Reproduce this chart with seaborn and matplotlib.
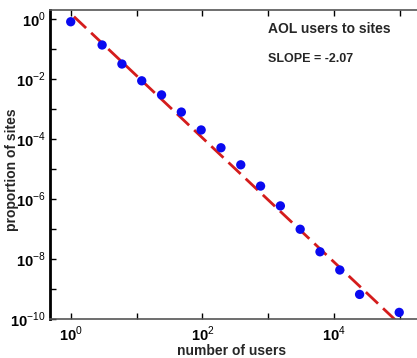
import numpy as np
import pandas as pd
import matplotlib
matplotlib.use("Agg")
import matplotlib.pyplot as plt
import seaborn as sns
from matplotlib.ticker import FixedLocator, FuncFormatter, NullLocator

# ---- data ----
num_users = [1, 3, 6, 12, 24, 48, 96, 192, 384, 768, 1536, 3072, 6144, 12288, 24576, 98304]
prop_sites = [0.81, 0.136, 0.0316, 0.0087, 0.00295, 7.9e-4, 2.0e-4, 5.1e-5, 1.38e-5,
              2.7e-6, 5.9e-7, 9.8e-8, 1.74e-8, 4.3e-9, 6.6e-10, 1.66e-10]
fit_x = [1.12, 85000]
fit_y = [1.2, 9.5e-11]
title_text = "AOL users to sites"
slope_text = "SLOPE = -2.07"
x_label = "number of users"
y_label = "proportion of sites"

sns.set_theme(style="white")
plt.rcParams['font.family'] = ['Liberation Sans', 'DejaVu Sans']
plt.rcParams['mathtext.fontset'] = 'custom'
plt.rcParams['mathtext.rm'] = 'Liberation Sans'
plt.rcParams['mathtext.bf'] = 'Liberation Sans:bold'
plt.rcParams['axes.unicode_minus'] = False

fig = plt.figure(figsize=(4.17, 3.58), dpi=100)
ax = fig.add_axes([50/417, 39/358, 367/417, 309/358])

pts = pd.DataFrame({"users": num_users, "prop": prop_sites})
fit = pd.DataFrame({"users": fit_x, "prop": fit_y})

sns.lineplot(data=fit, x="users", y="prop", ax=ax, color="#d41c1c", lw=2.0,
             dashes=False, linestyle=(0, (6, 2.5)), zorder=2)
sns.scatterplot(data=pts, x="users", y="prop", ax=ax, color="#0a0af0", s=45,
                edgecolor="none", zorder=3)

ax.set_xscale("log")
ax.set_yscale("log")
ax.set_xlim(10**-0.315, 10**5.263)
ax.set_ylim(1e-10, 10**0.3)

ax.xaxis.set_major_locator(FixedLocator([10.0**k for k in range(0, 6)]))
ax.xaxis.set_minor_locator(NullLocator())
ax.yaxis.set_major_locator(FixedLocator([10.0**k for k in range(-10, 1)]))
ax.yaxis.set_minor_locator(NullLocator())

def xfmt(v, pos):
    e = int(round(np.log10(v)))
    if e in (0, 2, 4):
        return r'$\mathbf{10}^{\mathrm{%d}}$' % e
    return ''

def yfmt(v, pos):
    e = int(round(np.log10(v)))
    if e % 2 == 0:
        return r'$\mathbf{10}^{\mathrm{%d}}$' % e
    return ''

ax.xaxis.set_major_formatter(FuncFormatter(xfmt))
ax.yaxis.set_major_formatter(FuncFormatter(yfmt))
ax.tick_params(axis='both', which='major', direction='in', length=4, width=1,
               colors='black', labelsize=10.5, top=True, bottom=True, left=True, right=False)
ax.tick_params(axis='x', pad=4)
ax.tick_params(axis='y', pad=3)

for s in ['top', 'bottom']:
    ax.spines[s].set_color('#555555')
    ax.spines[s].set_linewidth(1.2)
ax.spines['left'].set_color('black')
ax.spines['left'].set_linewidth(2.0)
ax.spines['right'].set_visible(False)

ax.set_xlabel(x_label, fontsize=10, fontweight='bold', labelpad=0)
ax.set_ylabel(y_label, fontsize=10, fontweight='bold')
ax.xaxis.set_label_coords((232-50)/367, -(344-319)/309)
ax.yaxis.set_label_coords(-(50-19)/367, 1 - (170-10)/309)

ax.text((268-50)/367, 1 - (29-10)/309, title_text, transform=ax.transAxes,
        fontsize=10, fontweight='bold', va='center', ha='left')
ax.text((268-50)/367, 1 - (59-10)/309, slope_text, transform=ax.transAxes,
        fontsize=9, fontweight='bold', va='center', ha='left')

fig.savefig("out.png", dpi=100)
